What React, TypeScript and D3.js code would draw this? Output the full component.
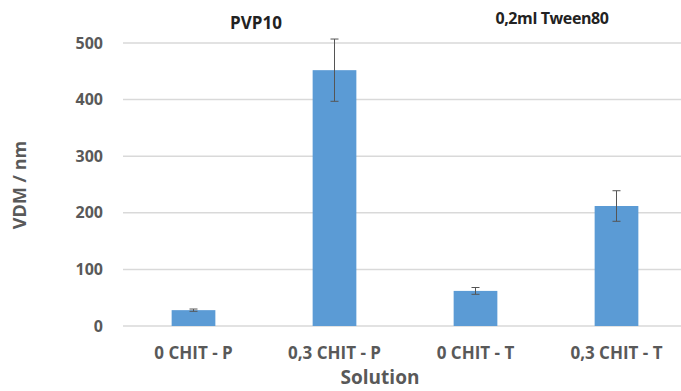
import React from "react";
import * as d3 from "d3";

const categories = ["0 CHIT - P", "0,3 CHIT - P", "0 CHIT - T", "0,3 CHIT - T"];
const values = [28, 452, 62, 212];
const errors = [2, 55, 6, 27];
const yTicks = [0, 100, 200, 300, 400, 500];

const width = 681;
const height = 391;
const left = 123;
const right = 687;
const top = 43;
const bottom = 326;
const barColor = "#5B9BD5";
const textColor = "#595959";
const font = "'Open Sans', 'Noto Sans', sans-serif";

export default function App() {
  const x = d3.scaleBand().domain(categories).range([left, right]).paddingInner(0.69).paddingOuter(0.345);
  const y = d3.scaleLinear().domain([0, 500]).range([bottom, top]);

  return (
    <svg width={width} height={height} style={{position: "absolute", left: 0, top: 0, background: "#fff"}}>
      {/* grid */}
      <g>
        {yTicks.map(t => (
          <line key={t} x1={left} x2={width} y1={y(t)} y2={y(t)} stroke="#d9d9d9" strokeWidth={1.5} />
        ))}
      </g>
      {/* y tick labels */}
      <g fontFamily={font} fontWeight="bold" fontSize={16} fill={textColor}>
        {yTicks.map(t => (
          <text key={t} x={103} y={y(t)} dy="0.35em" textAnchor="end">{t}</text>
        ))}
      </g>
      {/* bars */}
      <g>
        {categories.map((c, i) => (
          <rect key={c} x={x(c)} y={y(values[i])} width={x.bandwidth()} height={bottom - y(values[i])} fill={barColor} />
        ))}
      </g>
      {/* error bars */}
      <g stroke="#555" strokeWidth={1}>
        {categories.map((c, i) => {
          const cx = (x(c) as number) + x.bandwidth() / 2;
          const y1 = y(values[i] + errors[i]);
          const y2 = y(values[i] - errors[i]);
          return (
            <g key={c}>
              <line x1={cx} x2={cx} y1={y1} y2={y2} />
              <line x1={cx - 4} x2={cx + 4} y1={y1} y2={y1} />
              <line x1={cx - 4} x2={cx + 4} y1={y2} y2={y2} />
            </g>
          );
        })}
      </g>
      {/* x tick labels */}
      <g fontFamily={font} fontWeight="bold" fontSize={17} fill={textColor}>
        {categories.map(c => (
          <text key={c} x={(x(c) as number) + x.bandwidth() / 2} y={353} dy="0.35em" textAnchor="middle">{c}</text>
        ))}
      </g>
      {/* axis titles */}
      <text x={380} y={377} dy="0.35em" textAnchor="middle" fontFamily={font} fontWeight="bold" fontSize={19} fill={textColor}>Solution</text>
      <text transform={`translate(20,${185}) rotate(-90)`} dy="0.35em" textAnchor="middle" fontFamily={font} fontWeight="bold" fontSize={18} fill={textColor}>VDM / nm</text>
      {/* annotations */}
      <text x={256} y={23} dy="0.35em" textAnchor="middle" fontFamily={font} fontWeight="bold" fontSize={17} fill="#222">PVP10</text>
      <text x={552} y={18} dy="0.35em" textAnchor="middle" fontFamily={font} fontWeight="bold" fontSize={16} fill="#222" letterSpacing={-0.4}>0,2ml Tween80</text>
    </svg>
  );
}
